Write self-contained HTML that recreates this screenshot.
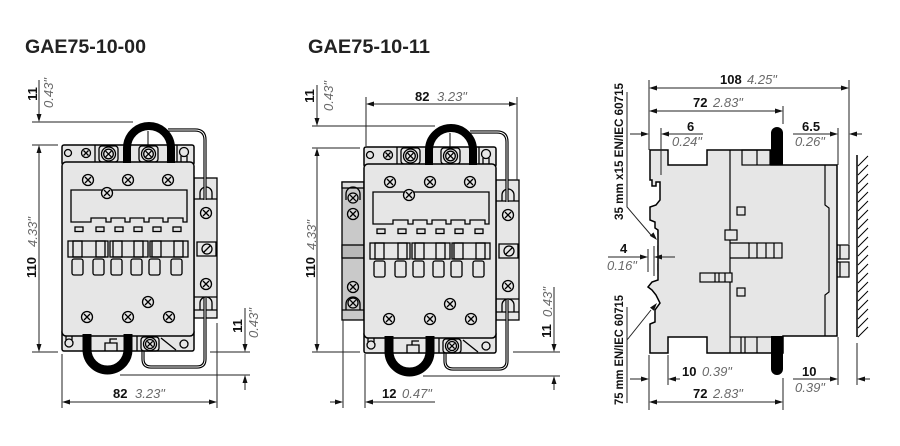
<!DOCTYPE html>
<html><head><meta charset="utf-8">
<style>
html,body{margin:0;padding:0;background:#fff;}
svg{display:block;}
text{font-family:"Liberation Sans",Arial,sans-serif;}
.b{font-weight:bold;fill:#111;font-size:13px;}
.i{font-style:italic;fill:#6a6a6a;font-size:13px;}
.t{font-weight:bold;fill:#222;font-size:19.5px;}
.r{font-weight:bold;fill:#111;font-size:11.5px;}
</style></head><body>
<svg width="900" height="446" viewBox="0 0 900 446" xmlns="http://www.w3.org/2000/svg">
<rect width="900" height="446" fill="#fff"/>
<text x="25" y="53" class="t" textLength="121" lengthAdjust="spacingAndGlyphs">GAE75-10-00</text>
<text x="308" y="53" class="t" textLength="122" lengthAdjust="spacingAndGlyphs">GAE75-10-11</text>

<!-- ============ LEFT DEVICE ============ -->
<g stroke="#000" stroke-width="1.3" fill="none">
 <rect x="194" y="178" width="23" height="140" fill="#e6e6e6"/>
 <path d="M194,199 H217 M197,242 H216 V256 H197 Z M194,297 H217 M194,310 H217"/>
 <path d="M200,199 V193 A6,6 0 0 1 212,193 V199"/>
 <path d="M200,310 V303 A6,6 0 0 1 212,303 V310"/>
 <g transform="translate(206,213)"><circle r="5.5"/><path d="M-3,-3L3,3M3,-3L-3,3"/></g>
 <circle cx="207" cy="249" r="5"/><path d="M203.5,252.5 L210.5,245.5"/>
 <g transform="translate(206,284)"><circle r="5.5"/><path d="M-3,-3L3,3M3,-3L-3,3"/></g>
 <path d="M168,130 H195 Q205,130 205,140 V200" stroke-width="3.2"/>
 <path d="M168,130 H195 Q205,130 205,140 V200" stroke="#fff" stroke-width="0.9"/>
 <path d="M143,337 V359 Q143,367 151,367 H197 Q205,367 205,359 V298" stroke-width="3.2"/>
 <path d="M143,337 V359 Q143,367 151,367 H197 Q205,367 205,359 V298" stroke="#fff" stroke-width="0.9"/>
 <rect x="62" y="145" width="132" height="20" rx="2" fill="#e6e6e6" stroke-width="1.5"/>
 <rect x="62" y="330" width="132" height="21" rx="2" fill="#e6e6e6" stroke-width="1.5"/>
 <circle cx="68" cy="153" r="3.5"/>
 <g transform="translate(86,153)"><circle r="4.5"/><path d="M-2.5,-2.5L2.5,2.5M2.5,-2.5L-2.5,2.5"/></g>
 <path d="M95,145 V162 M177,145 V162"/>
 <rect x="99" y="146" width="19" height="16" rx="3"/>
 <g transform="translate(108.5,154)"><circle r="7"/><circle r="4.8"/><path d="M-2.8,-2.8L2.8,2.8M2.8,-2.8L-2.8,2.8"/></g>
 <rect x="139" y="146" width="19" height="16" rx="3"/>
 <g transform="translate(148.5,154)"><circle r="7"/><circle r="4.8"/><path d="M-2.8,-2.8L2.8,2.8M2.8,-2.8L-2.8,2.8"/></g>
 <circle cx="184" cy="152" r="4.5"/><path d="M181,156 V162 M187,156 V162"/>
 <circle cx="69" cy="343" r="4"/><path d="M66,340 V336 M72,340 V336"/>
 <path d="M105,351 V343 H117 V351 M110,343 V339 H117"/>
 <path d="M137,336 V351"/>
 <rect x="141" y="337" width="18" height="14" rx="3"/>
 <g transform="translate(150,344)"><circle r="6.5"/><circle r="4.5"/><path d="M-2.6,-2.6L2.6,2.6M2.6,-2.6L-2.6,2.6"/></g>
 <path d="M161,338 L176,350"/>
 <circle cx="184" cy="344" r="4"/>
 <rect x="62" y="162" width="132" height="174" rx="4" fill="#e6e6e6" stroke-width="1.5"/>
 <g transform="translate(88,180)"><circle r="5.5"/><path d="M-3,-3L3,3M3,-3L-3,3"/></g>
 <g transform="translate(128,180)"><circle r="5.5"/><path d="M-3,-3L3,3M3,-3L-3,3"/></g>
 <g transform="translate(168,180)"><circle r="5.5"/><path d="M-3,-3L3,3M3,-3L-3,3"/></g>
 <path d="M71,190 H187 V222 H183 V218 H168 V222 H163 V218 H149 V222 H144 V218 H130 V222 H125 V218 H111 V222 H106 V218 H91 V222 H71 Z"/>
 <g transform="translate(107,193)"><circle r="5.5" fill="#e6e6e6"/><path d="M-3,-3L3,3M3,-3L-3,3"/></g>
 <rect x="75" y="227" width="8" height="4.5"/><rect x="96" y="227" width="8" height="4.5"/><rect x="115" y="227" width="8" height="4.5"/>
 <rect x="134" y="227" width="8" height="4.5"/><rect x="153" y="227" width="8" height="4.5"/><rect x="173" y="227" width="8" height="4.5"/>
 <rect x="68" y="241" width="40" height="16"/><rect x="110" y="241" width="38" height="16"/><rect x="150" y="241" width="38" height="16"/>
 <rect x="73" y="241" width="9" height="16"/><rect x="96" y="241" width="9" height="16"/><rect x="113" y="241" width="9" height="16"/>
 <rect x="134" y="241" width="9" height="16"/><rect x="152" y="241" width="9" height="16"/><rect x="174" y="241" width="9" height="16"/>
 <rect x="72" y="259" width="11" height="16" rx="2"/><rect x="93" y="259" width="11" height="16" rx="2"/><rect x="111" y="259" width="11" height="16" rx="2"/>
 <rect x="131" y="259" width="11" height="16" rx="2"/><rect x="149" y="259" width="11" height="16" rx="2"/><rect x="171" y="259" width="11" height="16" rx="2"/>
 <g transform="translate(148,302)"><circle r="5.5"/><path d="M-3,-3L3,3M3,-3L-3,3"/></g>
 <g transform="translate(87,317)"><circle r="5.5"/><path d="M-3,-3L3,3M3,-3L-3,3"/></g>
 <g transform="translate(128,317)"><circle r="5.5"/><path d="M-3,-3L3,3M3,-3L-3,3"/></g>
 <g transform="translate(169,317)"><circle r="5.5"/><path d="M-3,-3L3,3M3,-3L-3,3"/></g>
 <path d="M127,163 V148 A22,22 0 0 1 171,148 V163" stroke-width="8"/>
 <path d="M148,131 V146" stroke-width="1"/>
 <path d="M87,334 V349.5 A20.5,20.5 0 0 0 128,349.5 V334" stroke-width="9"/>
</g>

<!-- ============ MIDDLE DEVICE LEFT MODULE ============ -->
<g stroke="#000" stroke-width="1.3" fill="none">
 <rect x="342" y="182" width="22" height="138" fill="#c9c9c9"/>
 <rect x="342" y="182" width="22" height="6" fill="#dcdcdc"/>
 <path d="M346,200 V194 A7,7 0 0 1 360,194 V200"/>
 <g transform="translate(353,198)"><circle r="5" fill="#d6d6d6"/><path d="M-2.8,-2.8L2.8,2.8M2.8,-2.8L-2.8,2.8"/></g>
 <g transform="translate(353,214)"><circle r="5.5" fill="#d6d6d6"/><path d="M-3,-3L3,3M3,-3L-3,3"/></g>
 <rect x="342" y="245" width="22" height="13" fill="#b8b8b8"/>
 <g transform="translate(353,287)"><circle r="5.5" fill="#d6d6d6"/><path d="M-3,-3L3,3M3,-3L-3,3"/></g>
 <path d="M346,310 V304 A7,7 0 0 1 360,304 V310 M342,310 H364"/>
 <g transform="translate(353,303)"><circle r="5" fill="#d6d6d6"/><path d="M-2.8,-2.8L2.8,2.8M2.8,-2.8L-2.8,2.8"/></g>
</g>

<!-- ============ MIDDLE DEVICE ============ -->
<g transform="translate(302,2)">
<g stroke="#000" stroke-width="1.3" fill="none">
 <rect x="194" y="178" width="23" height="140" fill="#e6e6e6"/>
 <path d="M194,199 H217 M197,242 H216 V256 H197 Z M194,297 H217 M194,310 H217"/>
 <path d="M200,199 V193 A6,6 0 0 1 212,193 V199"/>
 <path d="M200,310 V303 A6,6 0 0 1 212,303 V310"/>
 <g transform="translate(206,213)"><circle r="5.5"/><path d="M-3,-3L3,3M3,-3L-3,3"/></g>
 <circle cx="207" cy="249" r="5"/><path d="M203.5,252.5 L210.5,245.5"/>
 <g transform="translate(206,284)"><circle r="5.5"/><path d="M-3,-3L3,3M3,-3L-3,3"/></g>
 <path d="M168,130 H195 Q205,130 205,140 V200" stroke-width="3.2"/>
 <path d="M168,130 H195 Q205,130 205,140 V200" stroke="#fff" stroke-width="0.9"/>
 <path d="M143,337 V359 Q143,367 151,367 H197 Q205,367 205,359 V298" stroke-width="3.2"/>
 <path d="M143,337 V359 Q143,367 151,367 H197 Q205,367 205,359 V298" stroke="#fff" stroke-width="0.9"/>
 <rect x="62" y="145" width="132" height="20" rx="2" fill="#e6e6e6" stroke-width="1.5"/>
 <rect x="62" y="330" width="132" height="21" rx="2" fill="#e6e6e6" stroke-width="1.5"/>
 <circle cx="68" cy="153" r="3.5"/>
 <g transform="translate(86,153)"><circle r="4.5"/><path d="M-2.5,-2.5L2.5,2.5M2.5,-2.5L-2.5,2.5"/></g>
 <path d="M95,145 V162 M177,145 V162"/>
 <rect x="99" y="146" width="19" height="16" rx="3"/>
 <g transform="translate(108.5,154)"><circle r="7"/><circle r="4.8"/><path d="M-2.8,-2.8L2.8,2.8M2.8,-2.8L-2.8,2.8"/></g>
 <rect x="139" y="146" width="19" height="16" rx="3"/>
 <g transform="translate(148.5,154)"><circle r="7"/><circle r="4.8"/><path d="M-2.8,-2.8L2.8,2.8M2.8,-2.8L-2.8,2.8"/></g>
 <circle cx="184" cy="152" r="4.5"/><path d="M181,156 V162 M187,156 V162"/>
 <circle cx="69" cy="343" r="4"/><path d="M66,340 V336 M72,340 V336"/>
 <path d="M105,351 V343 H117 V351 M110,343 V339 H117"/>
 <path d="M137,336 V351"/>
 <rect x="141" y="337" width="18" height="14" rx="3"/>
 <g transform="translate(150,344)"><circle r="6.5"/><circle r="4.5"/><path d="M-2.6,-2.6L2.6,2.6M2.6,-2.6L-2.6,2.6"/></g>
 <path d="M161,338 L176,350"/>
 <circle cx="184" cy="344" r="4"/>
 <rect x="62" y="162" width="132" height="174" rx="4" fill="#e6e6e6" stroke-width="1.5"/>
 <g transform="translate(88,180)"><circle r="5.5"/><path d="M-3,-3L3,3M3,-3L-3,3"/></g>
 <g transform="translate(128,180)"><circle r="5.5"/><path d="M-3,-3L3,3M3,-3L-3,3"/></g>
 <g transform="translate(168,180)"><circle r="5.5"/><path d="M-3,-3L3,3M3,-3L-3,3"/></g>
 <path d="M71,190 H187 V222 H183 V218 H168 V222 H163 V218 H149 V222 H144 V218 H130 V222 H125 V218 H111 V222 H106 V218 H91 V222 H71 Z"/>
 <g transform="translate(107,193)"><circle r="5.5" fill="#e6e6e6"/><path d="M-3,-3L3,3M3,-3L-3,3"/></g>
 <rect x="75" y="227" width="8" height="4.5"/><rect x="96" y="227" width="8" height="4.5"/><rect x="115" y="227" width="8" height="4.5"/>
 <rect x="134" y="227" width="8" height="4.5"/><rect x="153" y="227" width="8" height="4.5"/><rect x="173" y="227" width="8" height="4.5"/>
 <rect x="68" y="241" width="40" height="16"/><rect x="110" y="241" width="38" height="16"/><rect x="150" y="241" width="38" height="16"/>
 <rect x="73" y="241" width="9" height="16"/><rect x="96" y="241" width="9" height="16"/><rect x="113" y="241" width="9" height="16"/>
 <rect x="134" y="241" width="9" height="16"/><rect x="152" y="241" width="9" height="16"/><rect x="174" y="241" width="9" height="16"/>
 <rect x="72" y="259" width="11" height="16" rx="2"/><rect x="93" y="259" width="11" height="16" rx="2"/><rect x="111" y="259" width="11" height="16" rx="2"/>
 <rect x="131" y="259" width="11" height="16" rx="2"/><rect x="149" y="259" width="11" height="16" rx="2"/><rect x="171" y="259" width="11" height="16" rx="2"/>
 <g transform="translate(148,302)"><circle r="5.5"/><path d="M-3,-3L3,3M3,-3L-3,3"/></g>
 <g transform="translate(87,317)"><circle r="5.5"/><path d="M-3,-3L3,3M3,-3L-3,3"/></g>
 <g transform="translate(128,317)"><circle r="5.5"/><path d="M-3,-3L3,3M3,-3L-3,3"/></g>
 <g transform="translate(169,317)"><circle r="5.5"/><path d="M-3,-3L3,3M3,-3L-3,3"/></g>
 <path d="M127,163 V148 A22,22 0 0 1 171,148 V163" stroke-width="8"/>
 <path d="M148,131 V146" stroke-width="1"/>
 <path d="M87,334 V349.5 A20.5,20.5 0 0 0 128,349.5 V334" stroke-width="9"/>
</g>
</g>

<!-- ============ DIMENSIONS LEFT & MIDDLE ============ -->
<g stroke="#222" stroke-width="1" fill="none">
 <path d="M39,80 V114 M39,153 V344 M32,122 H133 M32,145 H58 M32,352 H58"/>
 <path d="M245,308 V344 M245,383 V390 M210,352 H250 M120,375 H250"/>
 <path d="M70,402 H209 M62,354 V408 M217,323 V408"/>
 <path d="M317,85 V118 M317,156 V344 M312,126 H435 M312,148 H360 M312,352 H360"/>
 <path d="M374,104 H509 M366,97 V146 M517,97 V180"/>
 <path d="M554,287 V344 M554,384 V390 M513,352 H560 M423,376 H560"/>
 <path d="M330,402 H335 M373,402 H435 M343,320 V408 M365,354 V408"/>
</g>
<g fill="#111">
 <polygon points="39,122 36.5,114 41.5,114"/>
 <polygon points="39,145 36.5,153 41.5,153"/>
 <polygon points="39,352 36.5,344 41.5,344"/>
 <polygon points="245,352 242.5,344 247.5,344"/>
 <polygon points="245,375 242.5,383 247.5,383"/>
 <polygon points="62,402 70,399.5 70,404.5"/>
 <polygon points="217,402 209,399.5 209,404.5"/>
 <polygon points="317,126 314.5,118 319.5,118"/>
 <polygon points="317,148 314.5,156 319.5,156"/>
 <polygon points="317,352 314.5,344 319.5,344"/>
 <polygon points="366,104 374,101.5 374,106.5"/>
 <polygon points="517,104 509,101.5 509,106.5"/>
 <polygon points="554,352 551.5,344 556.5,344"/>
 <polygon points="554,376 551.5,384 556.5,384"/>
 <polygon points="343,402 335,399.5 335,404.5"/>
 <polygon points="365,402 373,399.5 373,404.5"/>
</g>
<text class="b" transform="translate(37,94) rotate(-90)" text-anchor="middle">11</text>
<text class="i" transform="translate(53,93) rotate(-90)" text-anchor="middle">0.43"</text>
<text class="b" transform="translate(36,267.5) rotate(-90)" text-anchor="middle">110</text>
<text class="i" transform="translate(37,232) rotate(-90)" text-anchor="middle">4.33"</text>
<text class="b" transform="translate(242,326) rotate(-90)" text-anchor="middle">11</text>
<text class="i" transform="translate(258,323) rotate(-90)" text-anchor="middle">0.43"</text>
<text class="b" x="113" y="398">82</text><text class="i" x="135" y="398">3.23"</text>

<text class="b" transform="translate(314,96) rotate(-90)" text-anchor="middle">11</text>
<text class="i" transform="translate(333,96) rotate(-90)" text-anchor="middle">0.43"</text>
<text class="b" transform="translate(315,267.5) rotate(-90)" text-anchor="middle">110</text>
<text class="i" transform="translate(316,235) rotate(-90)" text-anchor="middle">4.33"</text>
<text class="b" x="415" y="101">82</text><text class="i" x="437" y="101">3.23"</text>
<text class="b" transform="translate(551,331) rotate(-90)" text-anchor="middle">11</text>
<text class="i" transform="translate(552,302) rotate(-90)" text-anchor="middle">0.43"</text>
<text class="b" x="382" y="398">12</text><text class="i" x="402" y="398">0.47"</text>

<!-- ============ SIDE VIEW ============ -->
<g stroke="#000" stroke-width="1.2" fill="none">
 <path d="M857,155 V337" stroke-width="1.5"/>
 <path d="M858,166 L868,156 M858,175 L868,165 M858,184 L868,174 M858,193 L868,183 M858,202 L868,192 M858,211 L868,201 M858,220 L868,210 M858,229 L868,219 M858,238 L868,228 M858,247 L868,237 M858,256 L868,246 M858,265 L868,255 M858,274 L868,264 M858,283 L868,273 M858,292 L868,282 M858,301 L868,291 M858,310 L868,300 M858,319 L868,309 M858,328 L868,318 M858,337 L868,327" stroke-width="1"/>
 <rect x="837" y="245" width="12" height="14" fill="#e6e6e6"/>
 <rect x="837" y="262" width="12" height="15" fill="#e6e6e6"/>
 <path d="M840,245 V259 M840,262 V277"/>
 <rect x="658" y="227" width="14" height="7" fill="#e6e6e6"/>
 <rect x="658" y="246" width="24" height="5" fill="#e6e6e6"/>
 <rect x="658" y="264" width="14" height="6" fill="#e6e6e6"/>
 <path d="M650,150 H668 V165 H707 V150 H771 V165 H837 V336 H783 V353 H707 V337 H668 V353 H650 V324 L655,322 V310 L660,303 L656,295 L652,290 L648,287 L652,282 L658,280 V230 L655,228 V222 L650,220 V207 L656,205 L660,200 V182 H656 V186 H652 V180 H650 Z" fill="#e6e6e6" stroke-width="1.5"/>
 <path d="M730,150 V353"/>
 <rect x="725" y="230" width="12" height="10" fill="#e6e6e6"/>
 <path d="M730,243 H749 M730,258 H749"/>
 <rect x="749" y="243" width="33" height="15"/>
 <path d="M757,243 V258 M766,243 V258 M774,243 V258"/>
 <rect x="700" y="273" width="32" height="9" fill="#e6e6e6"/>
 <path d="M715,273 V282 M719,273 V282 M725,273 V282"/>
 <rect x="737" y="207" width="8" height="8"/>
 <rect x="737" y="288" width="8" height="8"/>
 <path d="M825,165 V205 L829,208 V292 L825,295 V336"/>
 <rect x="742" y="150" width="28" height="15"/>
 <path d="M757,150 V165"/>
 <path d="M730,337 H771 M741,337 V353 M745,337 V353 M757,337 V353"/>
</g>
<path d="M771,165 V133 A6,6 0 0 1 783,133 V165 Z" fill="#000"/>
<path d="M771,336 V369 A6,6 0 0 0 783,369 V336 Z" fill="#000"/>

<g stroke="#222" stroke-width="1" fill="none">
 <path d="M657,88 H841 M657,111 H775"/>
 <path d="M649,80 V150 M661,128 V175 M783,106 V124 M838,128 V165 M849,80 V244"/>
 <path d="M630,134 H641 M669,134 H703 M793,134 H830 M857,134 H862"/>
 <path d="M630,379 H641 M676,379 H680 M793,379 H830 M865,379 H870"/>
 <path d="M657,402 H775"/>
 <path d="M649,355 V410 M668,355 V385 M783,378 V410 M838,337 V385 M857,343 V385"/>
 <path d="M608,257 H640 M648,249 V272 M654,246 V276 M662,257 H675"/>
 <path d="M627,92 V207 L651,235 M627,307 V403 M627,340 L651,310"/>
</g>
<g fill="#111">
 <polygon points="649,88 657,85.5 657,90.5"/>
 <polygon points="849,88 841,85.5 841,90.5"/>
 <polygon points="649,111 657,108.5 657,113.5"/>
 <polygon points="783,111 775,108.5 775,113.5"/>
 <polygon points="649,134 641,131.5 641,136.5"/>
 <polygon points="661,134 669,131.5 669,136.5"/>
 <polygon points="838,134 830,131.5 830,136.5"/>
 <polygon points="849,134 857,131.5 857,136.5"/>
 <polygon points="649,379 641,376.5 641,381.5"/>
 <polygon points="668,379 676,376.5 676,381.5"/>
 <polygon points="838,379 830,376.5 830,381.5"/>
 <polygon points="857,379 865,376.5 865,381.5"/>
 <polygon points="649,402 657,399.5 657,404.5"/>
 <polygon points="783,402 775,399.5 775,404.5"/>
 <polygon points="648,257 640,254.5 640,259.5"/>
 <polygon points="654,257 662,254.5 662,259.5"/>
 <polygon points="657,240 649.8,235.8 653.5,232.4"/>
 <polygon points="657,303 653.9,310.8 650,307.6"/>
</g>
<text class="b" x="720" y="84">108</text><text class="i" x="747" y="84">4.25"</text>
<text class="b" x="693" y="107">72</text><text class="i" x="713" y="107">2.83"</text>
<text class="b" x="687" y="131">6</text><text class="i" x="672" y="146">0.24"</text>
<text class="b" x="802" y="131">6.5</text><text class="i" x="795" y="146">0.26"</text>
<text class="b" x="620" y="253">4</text><text class="i" x="607" y="270">0.16"</text>
<text class="b" x="682" y="376">10</text><text class="i" x="702" y="376">0.39"</text>
<text class="b" x="693" y="398">72</text><text class="i" x="713" y="398">2.83"</text>
<text class="b" x="802" y="376">10</text><text class="i" x="795" y="392">0.39"</text>
<text class="r" transform="translate(623,151.5) rotate(-90)" text-anchor="middle" textLength="137" lengthAdjust="spacingAndGlyphs">35 mm x15 EN/IEC 60715</text>
<text class="r" transform="translate(623,350) rotate(-90)" text-anchor="middle" textLength="110" lengthAdjust="spacingAndGlyphs">75 mm EN/IEC 60715</text>
</svg>
</body></html>
